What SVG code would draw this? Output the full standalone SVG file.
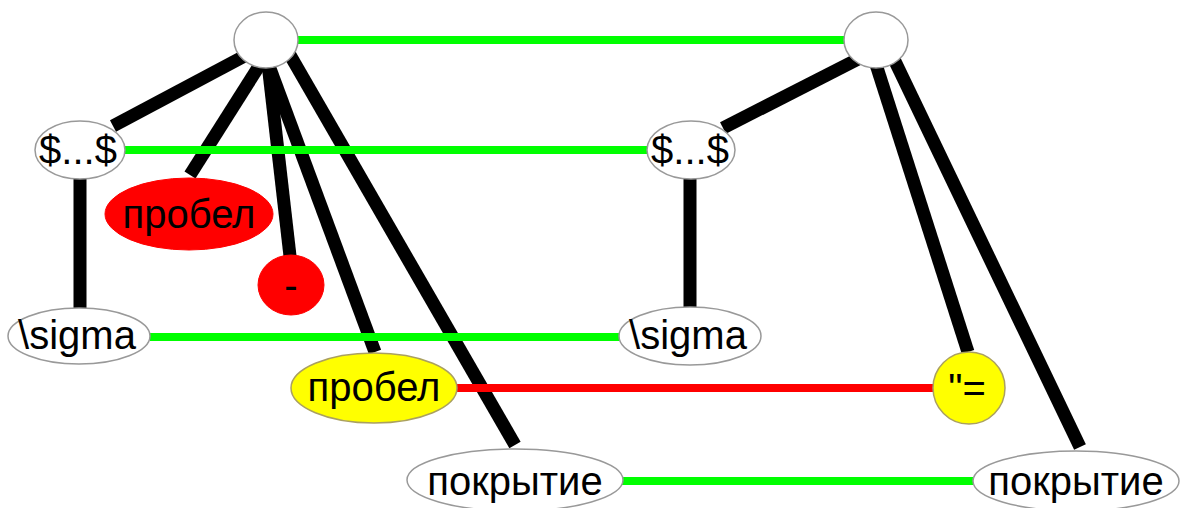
<svg xmlns="http://www.w3.org/2000/svg" width="1181" height="508" viewBox="0 0 1181 508">
<style>
.e{stroke:#000;stroke-width:13;fill:none}
.g{stroke:#00ff00;stroke-width:8;fill:none}
.r{stroke:#ff0000;stroke-width:8;fill:none}
.w{fill:#fff;stroke:#999;stroke-width:1.5}
.rd{fill:#ff0000;stroke:#ff0000;stroke-width:1}
.y{fill:#ffff00;stroke:#aaa060;stroke-width:1.5}
text{font-family:"Liberation Sans",Arial,sans-serif;font-size:40px;fill:#000;text-anchor:middle}
</style>
<rect width="1181" height="508" fill="#fff"/>
<g id="connectors">
<line class="e" x1="256" y1="50" x2="113" y2="126"/>
<line class="e" x1="266" y1="55" x2="190" y2="175"/>
<line class="e" x1="267" y1="55" x2="290" y2="256"/>
<line class="e" x1="265" y1="55" x2="375" y2="352"/>
<line class="e" x1="290" y1="55" x2="515" y2="445"/>
<line class="e" x1="80" y1="150" x2="80" y2="308"/>
<line class="e" x1="868" y1="54" x2="723" y2="128"/>
<line class="e" x1="873" y1="55" x2="968" y2="352"/>
<line class="e" x1="892" y1="55" x2="1080" y2="447"/>
<line class="e" x1="690" y1="150" x2="690" y2="307"/>
<line class="g" x1="298" y1="40" x2="845" y2="40"/>
<line class="g" x1="125" y1="150" x2="647" y2="150"/>
<line class="g" x1="150" y1="337" x2="620" y2="337"/>
<line class="g" x1="622" y1="481" x2="973" y2="481"/>
<line class="r" x1="457" y1="388" x2="934" y2="388"/>
</g>
<g id="rootL"><ellipse class="w" cx="266" cy="40" rx="32" ry="28"/></g>
<g id="rootR"><ellipse class="w" cx="876" cy="40" rx="32" ry="28"/></g>
<g id="mathL"><ellipse class="w" cx="80" cy="150" rx="45" ry="29"/><text x="78" y="164">$...$</text></g>
<g id="mathR"><ellipse class="w" cx="691" cy="150" rx="44" ry="29"/><text x="690" y="164">$...$</text></g>
<g id="spaceRed"><ellipse class="rd" cx="189" cy="214" rx="84" ry="36"/><text x="189" y="228">пробел</text></g>
<g id="dashRed"><ellipse class="rd" cx="291" cy="285" rx="33" ry="30"/><text x="291" y="299">-</text></g>
<g id="sigmaL"><ellipse class="w" cx="79" cy="336" rx="71" ry="28"/><text x="77" y="349">\sigma</text></g>
<g id="sigmaR"><ellipse class="w" cx="690" cy="336" rx="71" ry="29"/><text x="688" y="349">\sigma</text></g>
<g id="spaceYellow"><ellipse class="y" cx="374" cy="388" rx="83" ry="35"/><text x="374" y="401">пробел</text></g>
<g id="quoteEq"><ellipse class="y" cx="969" cy="388" rx="36" ry="36"/><text x="967" y="402">"=</text></g>
<g id="coverL"><ellipse class="w" cx="515" cy="480" rx="108" ry="31"/><text x="515" y="495">покрытие</text></g>
<g id="coverR"><ellipse class="w" cx="1076" cy="481" rx="103" ry="30"/><text x="1076" y="495">покрытие</text></g>
</svg>
